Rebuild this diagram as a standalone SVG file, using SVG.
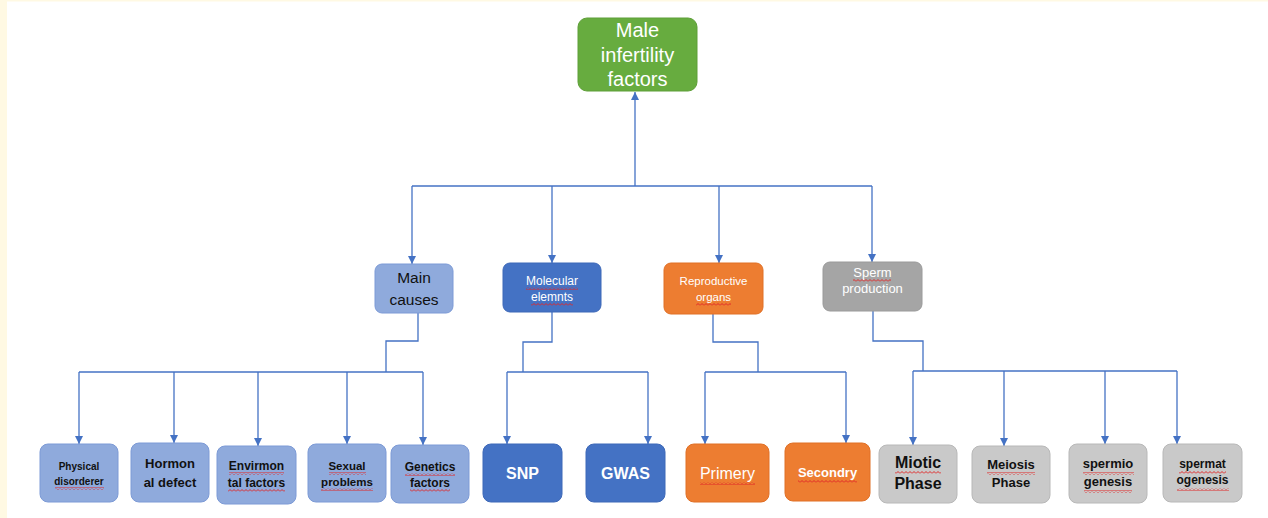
<svg xmlns="http://www.w3.org/2000/svg" width="1268" height="518" viewBox="0 0 1268 518">
<defs>
<marker id="ah" markerWidth="8" markerHeight="8" refX="8" refY="4" orient="auto" markerUnits="userSpaceOnUse">
<path d="M0,0 L8,4 L0,8 z" fill="#4472C4"/>
</marker>
<pattern id="wavy" patternUnits="userSpaceOnUse" width="4" height="3">
<path d="M0,2.5 L2,0.5 L4,2.5" fill="none" stroke="#E02828" stroke-width="1"/>
</pattern>
</defs>
<style>
.t{font-family:"Liberation Sans",Arial,sans-serif;text-anchor:middle}
.b{font-weight:bold}
.w{fill:#ffffff}
.k{fill:#111111}
.lb{fill:#8FAADC;stroke:#7C9AD6;stroke-width:1}
.db{fill:#4472C4;stroke:#3D68B8;stroke-width:1}
.or{fill:#ED7D31;stroke:#E07026;stroke-width:1}
.gr{fill:#A5A5A5;stroke:#9A9A9A;stroke-width:1}
.lg{fill:#C9C9C9;stroke:#B8B8B8;stroke-width:1}
.gn{fill:#67AC3F;stroke:#5E9F38;stroke-width:1}
.c{fill:none;stroke:#4472C4;stroke-width:1.3}
.a{marker-end:url(#ah)}
.u{fill:url(#wavy)}
</style>
<rect x="0" y="0" width="1268" height="518" fill="#ffffff"/>
<rect x="0" y="0" width="7" height="518" fill="#FFF9E3"/>
<rect x="0" y="0" width="1268" height="1.5" fill="#FFF9E3"/>

<g id="connectors">
<path class="c a" d="M635,186 L635,92"/>
<path class="c" d="M412,186 L872,186"/>
<path class="c a" d="M412,186 L412,264"/>
<path class="c a" d="M552,186 L552,263"/>
<path class="c a" d="M719,186 L719,263"/>
<path class="c a" d="M872,186 L872,262"/>

<path class="c" d="M418,313 L418,341 L386,341 L386,372"/>
<path class="c" d="M79,372 L423,372"/>
<path class="c a" d="M79,372 L79,444"/>
<path class="c a" d="M174,372 L174,443"/>
<path class="c a" d="M258,372 L258,446"/>
<path class="c a" d="M347,372 L347,444"/>
<path class="c a" d="M423,372 L423,445"/>

<path class="c" d="M552,312 L552,342 L523,342 L523,372"/>
<path class="c" d="M507,372 L648,372"/>
<path class="c a" d="M507,372 L507,444"/>
<path class="c a" d="M648,372 L648,444"/>

<path class="c" d="M713,314 L713,342 L758,342 L758,372"/>
<path class="c" d="M705,372 L846,372"/>
<path class="c a" d="M705,372 L705,444"/>
<path class="c a" d="M846,372 L846,443"/>

<path class="c" d="M873,311 L873,341 L923,341 L923,371"/>
<path class="c" d="M913,371 L1177,371"/>
<path class="c a" d="M913,371 L913,445"/>
<path class="c a" d="M1004,371 L1004,446"/>
<path class="c a" d="M1105,371 L1105,444"/>
<path class="c a" d="M1177,371 L1177,444"/>
</g>

<g id="male-infertility-factors">
<rect class="gn" x="578" y="18" width="119" height="73" rx="9"/>
<text class="t w" font-size="20" x="637.5" y="37">Male</text>
<text class="t w" font-size="20" x="637.5" y="62">infertility</text>
<text class="t w" font-size="20" x="637.5" y="86">factors</text>
</g>

<g id="main-causes">
<rect class="lb" x="375" y="264" width="78" height="49" rx="7"/>
<text class="t k" font-size="15.5" x="414" y="283">Main</text>
<text class="t k" font-size="15.5" x="414" y="305">causes</text>
</g>

<g id="molecular-elements">
<rect class="db" x="503" y="263" width="98" height="49" rx="7"/>
<text class="t w" font-size="12" x="552" y="285">Molecular</text>
<text class="t w" font-size="12" x="552" y="301">elemnts</text>
<rect class="u" x="526" y="287" width="52" height="3"/>
<rect class="u" x="531" y="303" width="42" height="3"/>
</g>

<g id="reproductive-organs">
<rect class="or" x="664" y="263" width="99" height="51" rx="7"/>
<text class="t w" font-size="11.5" x="713.5" y="285">Reproductive</text>
<text class="t w" font-size="11.5" x="713.5" y="301">organs</text>
<rect class="u" x="696" y="303" width="35" height="3"/>
</g>

<g id="sperm-production">
<rect class="gr" x="823" y="262" width="99" height="49" rx="7"/>
<text class="t w" font-size="13" x="872.5" y="277">Sperm</text>
<text class="t w" font-size="13" x="872.5" y="293">production</text>
<rect class="u" x="853" y="279" width="38" height="3"/>
</g>

<g id="physical-disorderer">
<rect class="lb" x="40" y="444" width="78" height="58" rx="8"/>
<text class="t k b" font-size="10" x="79" y="470">Physical</text>
<text class="t k b" font-size="10" x="79" y="485">disorderer</text>
<rect class="u" x="55" y="487" width="49" height="3"/>
</g>

<g id="hormonal-defect">
<rect class="lb" x="131" y="443" width="78" height="59" rx="8"/>
<text class="t k b" font-size="13" x="170" y="468">Hormon</text>
<text class="t k b" font-size="13" x="170" y="487">al defect</text>
</g>

<g id="environmental-factors">
<rect class="lb" x="217" y="446" width="79" height="58" rx="8"/>
<text class="t k b" font-size="12" x="256.5" y="470">Envirmon</text>
<text class="t k b" font-size="12" x="256.5" y="487">tal factors</text>
<rect class="u" x="229" y="472" width="55" height="3"/>
<rect class="u" x="228" y="489" width="57" height="3"/>
</g>

<g id="sexual-problems">
<rect class="lb" x="308" y="444" width="78" height="58" rx="8"/>
<text class="t k b" font-size="11.5" x="347" y="470">Sexual</text>
<text class="t k b" font-size="11.5" x="347" y="486">problems</text>
<rect class="u" x="329" y="472" width="37" height="3"/>
<rect class="u" x="321" y="488" width="52" height="3"/>
</g>

<g id="genetics-factors">
<rect class="lb" x="391" y="445" width="78" height="58" rx="8"/>
<text class="t k b" font-size="12" x="430" y="471">Genetics</text>
<text class="t k b" font-size="12" x="430" y="487">factors</text>
<rect class="u" x="405" y="473" width="50" height="3"/>
<rect class="u" x="410" y="489" width="40" height="3"/>
</g>

<g id="snp">
<rect class="db" x="483" y="444" width="79" height="58" rx="8"/>
<text class="t w b" font-size="16" x="522.5" y="479">SNP</text>
</g>

<g id="gwas">
<rect class="db" x="586" y="444" width="79" height="58" rx="8"/>
<text class="t w b" font-size="16" x="625.5" y="479">GWAS</text>
</g>

<g id="primery">
<rect class="or" x="686" y="444" width="83" height="58" rx="8"/>
<text class="t w" font-size="16" x="727.5" y="479">Primery</text>
<rect class="u" x="700" y="482" width="55" height="3"/>
</g>

<g id="secondry">
<rect class="or" x="785" y="443" width="85" height="58" rx="8"/>
<text class="t w b" font-size="13" x="827.5" y="477">Secondry</text>
<rect class="u" x="798" y="480" width="59" height="3"/>
</g>

<g id="miotic-phase">
<rect class="lg" x="879" y="445" width="78" height="58" rx="8"/>
<text class="t k b" font-size="16" x="918" y="468">Miotic</text>
<text class="t k b" font-size="16" x="918" y="489">Phase</text>
<rect class="u" x="895" y="471" width="46" height="3"/>
</g>

<g id="meiosis-phase">
<rect class="lg" x="972" y="446" width="78" height="57" rx="8"/>
<text class="t k b" font-size="13" x="1011" y="469">Meiosis</text>
<text class="t k b" font-size="13" x="1011" y="487">Phase</text>
<rect class="u" x="987" y="472" width="48" height="3"/>
</g>

<g id="spermiogenesis">
<rect class="lg" x="1069" y="444" width="78" height="59" rx="8"/>
<text class="t k b" font-size="13" x="1108" y="468">spermio</text>
<text class="t k b" font-size="13" x="1108" y="486">genesis</text>
<rect class="u" x="1083" y="472" width="51" height="3"/>
<rect class="u" x="1084" y="490" width="48" height="3"/>
</g>

<g id="spermatogenesis">
<rect class="lg" x="1163" y="444" width="79" height="58" rx="8"/>
<text class="t k b" font-size="12" x="1202.5" y="468">spermat</text>
<text class="t k b" font-size="12" x="1202.5" y="484">ogenesis</text>
<rect class="u" x="1179" y="471" width="47" height="3"/>
<rect class="u" x="1177" y="488" width="52" height="3"/>
</g>
</svg>
